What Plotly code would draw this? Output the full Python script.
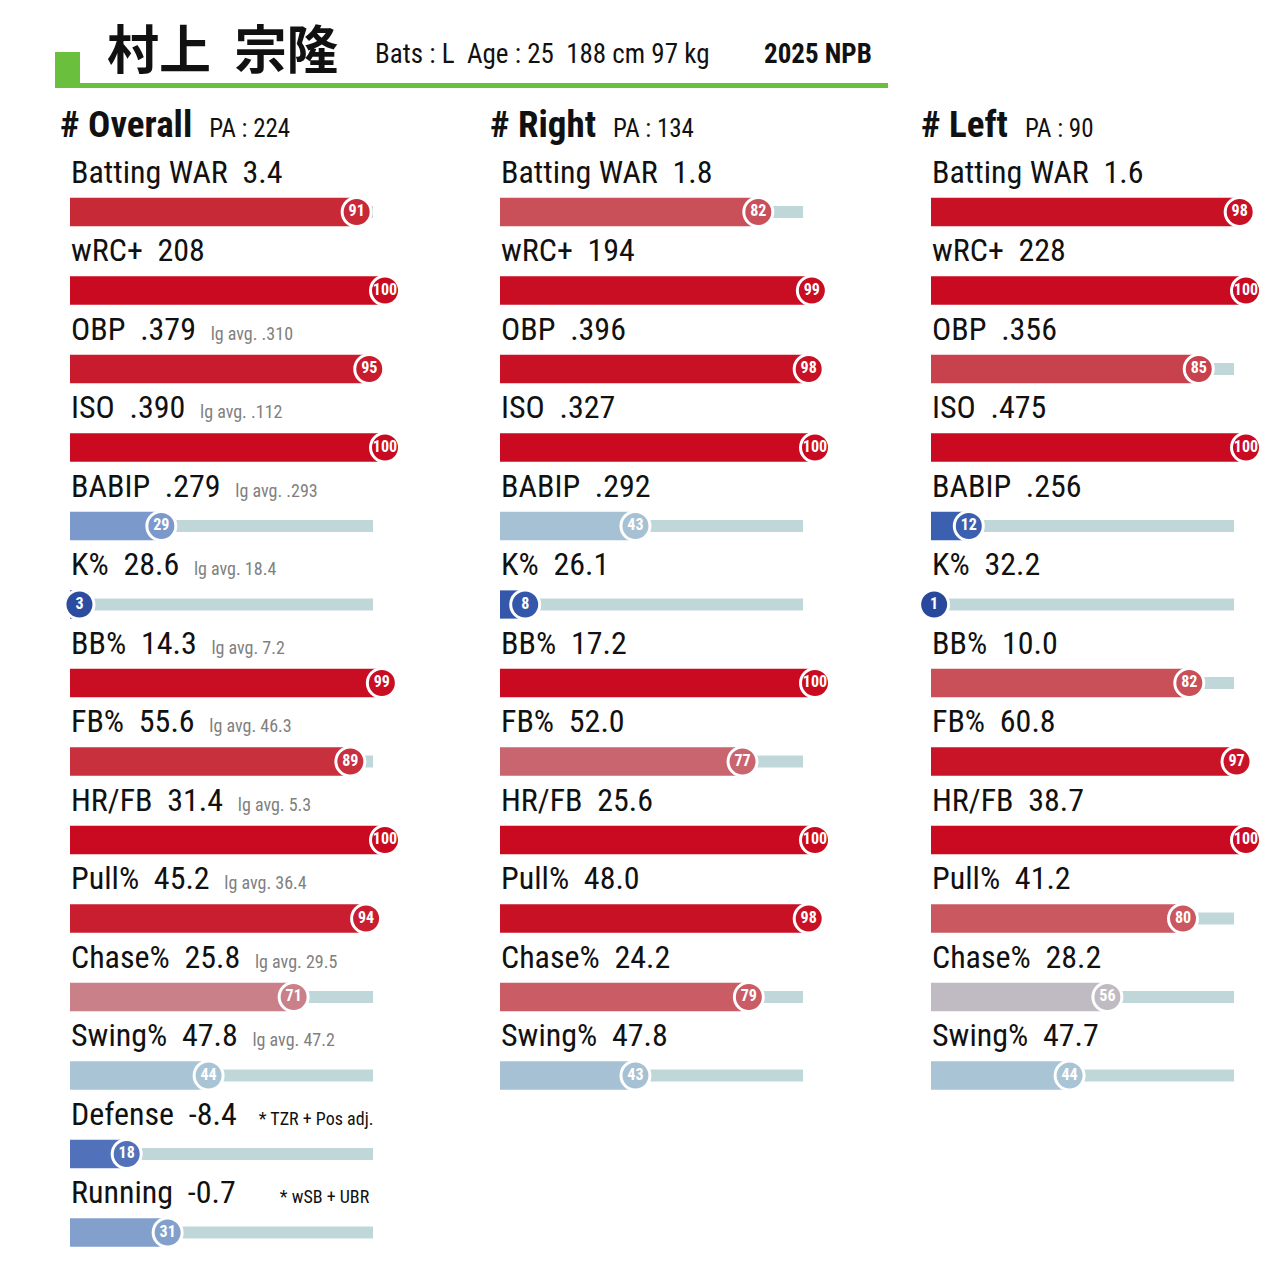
import plotly.graph_objects as go

# ---- data ----
metrics = ["Batting WAR", "wRC+", "OBP", "ISO", "BABIP", "K%", "BB%", "FB%",
           "HR/FB", "Pull%", "Chase%", "Swing%", "Defense", "Running"]

overall_values = ["3.4", "208", ".379", ".390", ".279", "28.6", "14.3", "55.6",
                  "31.4", "45.2", "25.8", "47.8", "-8.4", "-0.7"]
overall_pct = [91, 100, 95, 100, 29, 3, 99, 89, 100, 94, 71, 44, 18, 31]
league_avg = [None, None, ".310", ".112", ".293", "18.4", "7.2", "46.3",
              "5.3", "36.4", "29.5", "47.2", None, None]
notes = {"Defense": "* TZR + Pos adj.", "Running": "* wSB + UBR"}

right_values = ["1.8", "194", ".396", ".327", ".292", "26.1", "17.2", "52.0",
                "25.6", "48.0", "24.2", "47.8"]
right_pct = [82, 99, 98, 100, 43, 8, 100, 77, 100, 98, 79, 43]

left_values = ["1.6", "228", ".356", ".475", ".256", "32.2", "10.0", "60.8",
               "38.7", "41.2", "28.2", "47.7"]
left_pct = [98, 100, 85, 100, 12, 1, 82, 97, 100, 80, 56, 44]

player = "村上\u00a0\u00a0宗隆"
profile = "Bats : L\u00a0\u00a0Age : 25\u00a0\u00a0188 cm 97 kg"
season = "2025 NPB"
sections = [("Overall", "224"), ("Right", "134"), ("Left", "90")]

TRACK_MAX = 96.2
OFF = 8                      # page body margin
W, H = 1280 - OFF, 1263 - OFF
FONT = "Roboto Condensed, Liberation Sans Narrow, DejaVu Sans Condensed, Roboto, sans-serif"
NB = "\u00a0"
note_gap = {"Defense": 3, "Running": 6}

# blue -> grey -> red percentile scale
scale = [(0, (38, 70, 154)), (12, (60, 96, 176)), (20, (88, 120, 190)),
         (30, (128, 157, 204)), (44, (169, 196, 212)), (56, (192, 187, 194)),
         (71, (201, 128, 136)), (80, (201, 88, 97)), (90, (200, 44, 58)),
         (100, (201, 10, 32))]


def pct_color(p):
    for (p0, c0), (p1, c1) in zip(scale[:-1], scale[1:]):
        if p0 <= p <= p1:
            t = (p - p0) / (p1 - p0)
            return "rgb(%d,%d,%d)" % tuple(round(a + (b - a) * t) for a, b in zip(c0, c1))
    return "rgb(201,10,32)"


def px(x):
    return (x - OFF) / W


def py(y):
    return 1 - (y - OFF) / H


fig = go.Figure()

columns = [
    ("x", overall_values, overall_pct, True),
    ("x2", right_values, right_pct, False),
    ("x3", left_values, left_pct, False),
]
domains = [(70, 385), (500, 815), (931, 1246)]

annotations = []
for (xa, values, pct, show_avg), (sec, pa) in zip(columns, sections):
    rows = list(range(len(values)))
    fig.add_trace(go.Bar(
        x=[TRACK_MAX] * len(rows), y=rows, orientation="h", width=0.15,
        marker=dict(color="#c0d7d9", line_width=0), xaxis=xa, yaxis="y",
        hoverinfo="skip", showlegend=False))
    fig.add_trace(go.Bar(
        x=pct, y=rows, orientation="h", width=0.36,
        marker=dict(color=[pct_color(p) for p in pct], line_width=0),
        xaxis=xa, yaxis="y", hoverinfo="skip", showlegend=False))
    fig.add_trace(go.Scatter(
        x=pct, y=rows, mode="markers+text", text=[str(p) for p in pct],
        textposition="middle center",
        textfont=dict(family=FONT, size=16, color="white", weight="bold"),
        marker=dict(size=29, color=[pct_color(p) for p in pct],
                    line=dict(color="white", width=3)),
        cliponaxis=False, xaxis=xa, yaxis="y", hoverinfo="skip", showlegend=False))

    for i, v in enumerate(values):
        label = metrics[i] + NB * 2 + v
        if show_avg and league_avg[i]:
            label += NB * 2 + "<span style='font-size:18px;color:#808080'>lg avg. %s</span>" % league_avg[i]
        if show_avg and metrics[i] in notes:
            label += NB * note_gap[metrics[i]] + "<span style='font-size:18px'>%s</span>" % notes[metrics[i]]
        annotations.append(dict(
            x=0, y=i - 0.51, xref=xa, yref="y", text=label, showarrow=False,
            xanchor="left", yanchor="middle", xshift=-1,
            font=dict(family=FONT, size=32, color="#111111")))

    annotations.append(dict(
        x=0, y=-1.12, xref=xa, yref="y", xanchor="left", yanchor="middle",
        xshift=-12, showarrow=False,
        text="<b># %s</b>%s<span style='font-size:25px'>PA : %s</span>" % (sec, NB * 2, pa),
        font=dict(family=FONT, size=37, color="#111111")))

# header
annotations.append(dict(
    x=px(105), y=py(47), xref="paper", yref="paper", xanchor="left",
    yanchor="middle", showarrow=False, text="<b>%s</b>" % player,
    font=dict(family="Noto Sans CJK JP", size=52, color="#111111")))
annotations.append(dict(
    x=px(373), y=py(54), xref="paper", yref="paper", xanchor="left",
    yanchor="middle", showarrow=False, text=profile,
    font=dict(family=FONT, size=27, color="#111111")))
annotations.append(dict(
    x=px(874), y=py(54), xref="paper", yref="paper", xanchor="right",
    yanchor="middle", showarrow=False, text="<b>%s</b>" % season,
    font=dict(family=FONT, size=27, color="#111111")))

shapes = [
    dict(type="rect", xref="paper", yref="paper", x0=px(55), x1=px(888),
         y0=py(88), y1=py(83), fillcolor="#6abf3c", line_width=0),
    dict(type="rect", xref="paper", yref="paper", x0=px(55), x1=px(80),
         y0=py(88), y1=py(52), fillcolor="#6abf3c", line_width=0),
]

# y axis: row 0 centred at 212 px, 78.5 px per row
row_px, row0_px = 78.5, 212
y_top = -(row0_px - OFF) / row_px
y_bottom = y_top + H / row_px

axis_style = dict(range=[0, 100], visible=False, showgrid=False, zeroline=False,
                  fixedrange=True)
fig.update_layout(
    width=W, height=H, margin=dict(l=0, r=0, t=0, b=0),
    paper_bgcolor="white", plot_bgcolor="white", barmode="overlay",
    xaxis=dict(domain=[px(domains[0][0]), px(domains[0][1])], anchor="y", **axis_style),
    xaxis2=dict(domain=[px(domains[1][0]), px(domains[1][1])], anchor="y", **axis_style),
    xaxis3=dict(domain=[px(domains[2][0]), px(domains[2][1])], anchor="y", **axis_style),
    yaxis=dict(range=[y_bottom, y_top], visible=False, showgrid=False, zeroline=False,
               fixedrange=True),
    annotations=annotations, shapes=shapes, showlegend=False,
)

fig.write_html("out.html")
